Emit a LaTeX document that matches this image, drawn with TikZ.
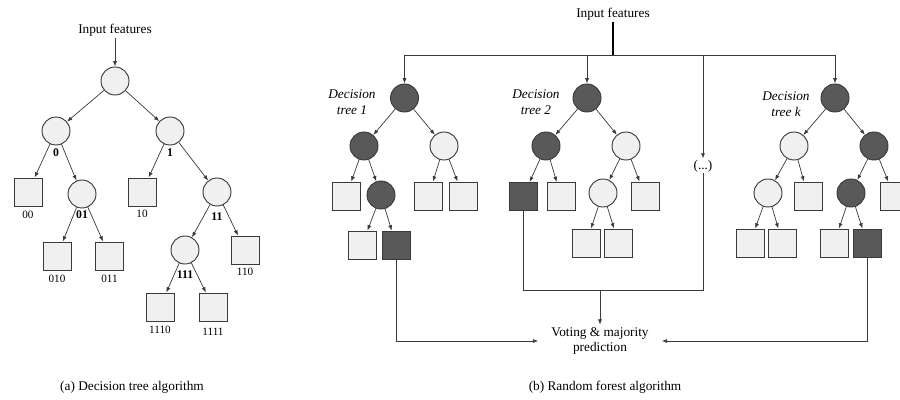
\documentclass[tikz,border=0pt]{standalone}
\usepackage{fontspec}
\setmainfont{Liberation Serif}
\usetikzlibrary{arrows.meta}
\definecolor{lightfill}{HTML}{F0F0F0}
\definecolor{darkfill}{HTML}{595959}
\definecolor{edgecol}{HTML}{3A3A3A}
\begin{document}
\begin{tikzpicture}[x=0.85pt,y=-0.85pt,
  nd/.style={draw=edgecol, line width=0.8pt, inner sep=0pt, minimum size=23.8pt},
  lc/.style={nd, circle, fill=lightfill},
  dc/.style={nd, circle, fill=darkfill},
  ls/.style={nd, rectangle, fill=lightfill},
  dsq/.style={nd, rectangle, fill=darkfill},
  arr/.style={draw=edgecol, line width=0.6pt, -{Latex[length=4.5pt,width=3.4pt]}},
  ln/.style={draw=edgecol, line width=0.7pt},
  thk/.style={draw=black, line width=1.2pt},
  txt/.style={font=\fontsize{11.3}{13.5}\selectfont, inner sep=1pt, align=center},
  lbl/.style={font=\fontsize{9.5}{11}\selectfont, inner sep=0pt},
  blbl/.style={font=\fontsize{10}{11}\selectfont\bfseries, inner sep=0pt},
  itl/.style={font=\fontsize{11.3}{13.5}\selectfont\itshape, align=center, inner sep=0pt}]
\useasboundingbox[fill=white] (0,0) rectangle (900,400);

% ---------- (a) decision tree ----------
\node[txt] (inA) at (115,30) {Input features};
\node[lc] (r) at (115,81) {};
\node[lc] (n0) at (56,131) {};
\node[lc] (n1) at (170,131) {};
\node[ls] (s00) at (28,192) {};
\node[lc] (n01) at (82,194) {};
\node[ls] (s10) at (142,192) {};
\node[lc] (n11) at (217,192) {};
\node[ls] (s010) at (57,256) {};
\node[ls] (s011) at (109.5,256) {};
\node[lc] (n111) at (185,250) {};
\node[ls] (s110) at (245,250) {};
\node[ls] (s1110) at (160,307) {};
\node[ls] (s1111) at (213,307) {};

\node[blbl] (l0) at (56,153) {0};
\node[blbl] (l1) at (170,153) {1};
\node[lbl] (l00) at (28,215) {00};
\node[blbl] (l01) at (82,215) {01};
\node[lbl] (l10) at (142,214) {10};
\node[blbl] (l11) at (217,217) {11};
\node[lbl] (l010) at (57,279) {010};
\node[lbl] (l011) at (109.5,279) {011};
\node[blbl] (l111) at (185,275) {111};
\node[lbl] (l110) at (245,272) {110};
\node[lbl] (l1110) at (160,330) {1110};
\node[lbl] (l1111) at (213,332) {1111};

\draw[arr] (inA) -- (r);
\draw[arr] (r) -- (n0);
\draw[arr] (r) -- (n1);
\draw[arr] (n0) -- (s00);
\draw[arr] (n0) -- (n01);
\draw[arr] (n1) -- (s10);
\draw[arr] (n1) -- (n11);
\draw[arr] (n01) -- (s010);
\draw[arr] (n01) -- (s011);
\draw[arr] (n11) -- (n111);
\draw[arr] (n11) -- (s110);
\draw[arr] (n111) -- (s1110);
\draw[arr] (n111) -- (s1111);

\node[txt] (capA) at (132,387) {(a) Decision tree algorithm};

% ---------- (b) random forest ----------
\node[txt] (inB) at (613,14) {Input features};
\coordinate (bar) at (613,55);
\coordinate (b1) at (404.5,55);
\coordinate (b2) at (587,55);
\coordinate (b3) at (703,55);
\coordinate (bk) at (835,55);

% tree 1
\node[dc] (t1r) at (404.5,98) {};
\node[dc] (t1a) at (364,146) {};
\node[lc] (t1b) at (444,146) {};
\node[ls] (t1c) at (346,196) {};
\node[dc] (t1e) at (381,195) {};
\node[ls] (t1f) at (428.5,196) {};
\node[ls] (t1g) at (463,196) {};
\node[ls] (t1h) at (362,245) {};
\node[dsq] (t1i) at (396,245) {};
\node[itl] (t1l) at (352,102) {Decision\\tree 1};
\draw[arr] (t1r) -- (t1a);
\draw[arr] (t1r) -- (t1b);
\draw[arr] (t1a) -- (t1c);
\draw[arr] (t1a) -- (t1e);
\draw[arr] (t1b) -- (t1f);
\draw[arr] (t1b) -- (t1g);
\draw[arr] (t1e) -- (t1h);
\draw[arr] (t1e) -- (t1i);

% tree 2
\node[dc] (t2r) at (587,98) {};
\node[dc] (t2a) at (546,146) {};
\node[lc] (t2b) at (626,146) {};
\node[dsq] (t2c) at (523,196.5) {};
\node[ls] (t2d) at (561,196.5) {};
\node[lc] (t2e) at (603,193) {};
\node[ls] (t2f) at (645,196) {};
\node[ls] (t2g) at (586,243) {};
\node[ls] (t2h) at (618.5,243) {};
\node[itl] (t2l) at (536,102) {Decision\\tree 2};
\draw[arr] (t2r) -- (t2a);
\draw[arr] (t2r) -- (t2b);
\draw[arr] (t2a) -- (t2c);
\draw[arr] (t2a) -- (t2d);
\draw[arr] (t2b) -- (t2e);
\draw[arr] (t2b) -- (t2f);
\draw[arr] (t2e) -- (t2g);
\draw[arr] (t2e) -- (t2h);

% dots
\node[txt] (dots) at (703,166) {(...)};

% tree k
\node[dc] (tkr) at (835,98) {};
\node[lc] (tka) at (794,146) {};
\node[dc] (tkb) at (874,146) {};
\node[lc] (tkc) at (768,193) {};
\node[ls] (tkd) at (808,196) {};
\node[dc] (tke) at (851,193) {};
\node[ls] (tkf) at (894,196) {};
\node[ls] (tkg) at (750,243) {};
\node[ls] (tkh) at (782.5,243) {};
\node[ls] (tki) at (834,243) {};
\node[dsq] (tkj) at (867,243) {};
\node[itl] (tkl) at (786,104) {Decision\\tree \textit{k}};
\draw[arr] (tkr) -- (tka);
\draw[arr] (tkr) -- (tkb);
\draw[arr] (tka) -- (tkc);
\draw[arr] (tka) -- (tkd);
\draw[arr] (tkb) -- (tke);
\draw[arr] (tkb) -- (tkf);
\draw[arr] (tkc) -- (tkg);
\draw[arr] (tkc) -- (tkh);
\draw[arr] (tke) -- (tki);
\draw[arr] (tke) -- (tkj);

% input distribution
\draw[thk] (inB) -- (bar);
\draw[ln] (b1) -- (bk);
\draw[arr] (b1) -- (t1r);
\draw[arr] (b2) -- (t2r);
\draw[arr] (b3) -- (dots);
\draw[arr] (bk) -- (tkr);

% voting
\node[txt, inner xsep=11pt, inner ysep=2pt] (vote) at (600,341) {Voting \& majority\\prediction};
\coordinate (j) at (600,290);
\draw[ln] (t2c.south) |- (j);
\draw[ln] (dots.south) |- (j);
\draw[arr] (j) -- (vote.north);
\draw[arr] (t1i.south) |- (vote.west);
\draw[arr] (tkj.south) |- (vote.east);

\node[txt] (capB) at (605,387) {(b) Random forest algorithm};
\end{tikzpicture}
\end{document}
